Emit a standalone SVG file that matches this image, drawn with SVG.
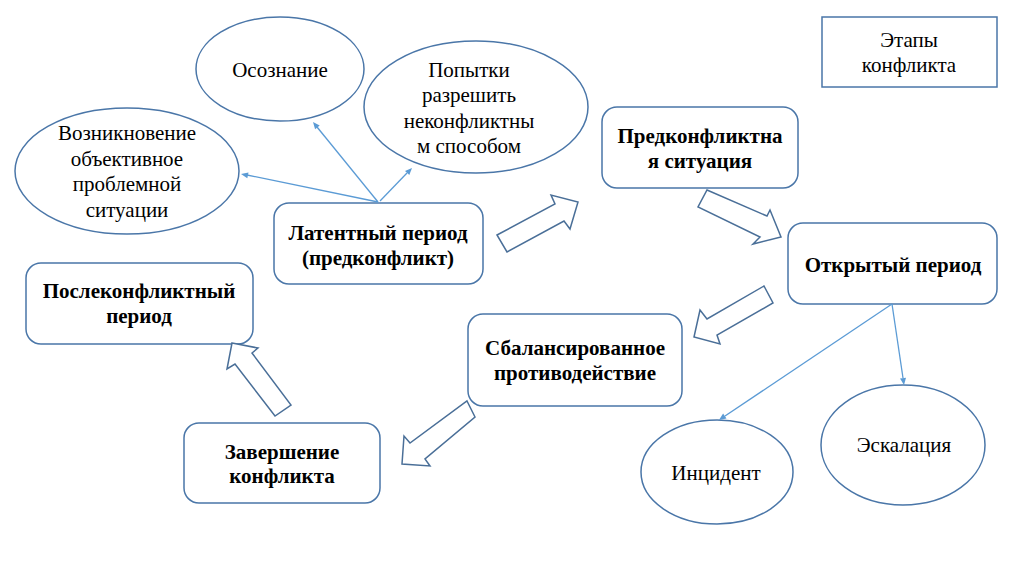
<svg xmlns="http://www.w3.org/2000/svg" width="1024" height="574" viewBox="0 0 1024 574">
<rect width="1024" height="574" fill="#fff"/>

<g id="osoznanie" fill="#fff" stroke="#4a76a8" stroke-width="1.5"><ellipse cx="280" cy="69" rx="84" ry="52"/><text font-family="Liberation Serif" font-size="21" text-anchor="middle" fill="#000" stroke="none" x="280" y="77">Осознание</text></g>
<g id="popytki" fill="#fff" stroke="#4a76a8" stroke-width="1.5"><ellipse cx="476" cy="107" rx="112" ry="66"/>
<text font-family="Liberation Serif" font-size="21" text-anchor="middle" fill="#000" stroke="none" x="469" y="77">Попытки</text>
<text font-family="Liberation Serif" font-size="21" text-anchor="middle" fill="#000" stroke="none" x="469" y="102">разрешить</text>
<text font-family="Liberation Serif" font-size="21" text-anchor="middle" fill="#000" stroke="none" x="469" y="128">неконфликтны</text>
<text font-family="Liberation Serif" font-size="21" text-anchor="middle" fill="#000" stroke="none" x="469" y="153">м способом</text></g>
<g id="vozniknovenie" fill="#fff" stroke="#4a76a8" stroke-width="1.5"><ellipse cx="127" cy="171" rx="112" ry="63"/>
<text font-family="Liberation Serif" font-size="21" text-anchor="middle" fill="#000" stroke="none" x="127" y="140">Возникновение</text>
<text font-family="Liberation Serif" font-size="21" text-anchor="middle" fill="#000" stroke="none" x="127" y="166">объективное</text>
<text font-family="Liberation Serif" font-size="21" text-anchor="middle" fill="#000" stroke="none" x="127" y="191">проблемной</text>
<text font-family="Liberation Serif" font-size="21" text-anchor="middle" fill="#000" stroke="none" x="127" y="217">ситуации</text></g>
<g id="latent" fill="#fff" stroke="#4a76a8" stroke-width="1.5"><rect x="274" y="203" width="209" height="81" rx="15"/>
<text font-family="Liberation Serif" font-size="21" font-weight="bold" text-anchor="middle" fill="#000" stroke="none" x="378" y="240">Латентный период</text>
<text font-family="Liberation Serif" font-size="21" font-weight="bold" text-anchor="middle" fill="#000" stroke="none" x="378" y="265">(предконфликт)</text></g>
<g id="predkonf" fill="#fff" stroke="#4a76a8" stroke-width="1.5"><rect x="602" y="107" width="196" height="81" rx="15"/>
<text font-family="Liberation Serif" font-size="21" font-weight="bold" text-anchor="middle" fill="#000" stroke="none" x="700" y="143">Предконфликтна</text>
<text font-family="Liberation Serif" font-size="21" font-weight="bold" text-anchor="middle" fill="#000" stroke="none" x="700" y="168">я ситуация</text></g>
<g id="etapy" fill="#fff" stroke="#4a76a8" stroke-width="1.5"><rect x="822" y="17" width="175" height="70"/>
<text font-family="Liberation Serif" font-size="21" text-anchor="middle" fill="#000" stroke="none" x="909" y="47">Этапы</text>
<text font-family="Liberation Serif" font-size="21" text-anchor="middle" fill="#000" stroke="none" x="909" y="72">конфликта</text></g>
<g id="otkryty" fill="#fff" stroke="#4a76a8" stroke-width="1.5"><rect x="788" y="223" width="209" height="81" rx="15"/>
<text font-family="Liberation Serif" font-size="21" font-weight="bold" text-anchor="middle" fill="#000" stroke="none" x="893" y="272">Открытый период</text></g>
<g id="balans" fill="#fff" stroke="#4a76a8" stroke-width="1.5"><rect x="468" y="314" width="214" height="92" rx="15"/>
<text font-family="Liberation Serif" font-size="21" font-weight="bold" text-anchor="middle" fill="#000" stroke="none" x="575" y="355">Сбалансированное</text>
<text font-family="Liberation Serif" font-size="21" font-weight="bold" text-anchor="middle" fill="#000" stroke="none" x="575" y="380">противодействие</text></g>
<g id="zavershenie" fill="#fff" stroke="#4a76a8" stroke-width="1.5"><rect x="184" y="423" width="196" height="80" rx="15"/>
<text font-family="Liberation Serif" font-size="21" font-weight="bold" text-anchor="middle" fill="#000" stroke="none" x="282" y="459">Завершение</text>
<text font-family="Liberation Serif" font-size="21" font-weight="bold" text-anchor="middle" fill="#000" stroke="none" x="282" y="483">конфликта</text></g>
<g id="poslekonf" fill="#fff" stroke="#4a76a8" stroke-width="1.5"><rect x="26" y="263" width="227" height="81" rx="15"/>
<text font-family="Liberation Serif" font-size="21" font-weight="bold" text-anchor="middle" fill="#000" stroke="none" x="139" y="298">Послеконфликтный</text>
<text font-family="Liberation Serif" font-size="21" font-weight="bold" text-anchor="middle" fill="#000" stroke="none" x="139" y="323">период</text></g>
<g id="incident" fill="#fff" stroke="#4a76a8" stroke-width="1.5"><ellipse cx="717" cy="472" rx="76" ry="52"/>
<text font-family="Liberation Serif" font-size="21" text-anchor="middle" fill="#000" stroke="none" x="716" y="480">Инцидент</text></g>
<g id="eskalacia" fill="#fff" stroke="#4a76a8" stroke-width="1.5"><ellipse cx="903" cy="445" rx="82" ry="60"/>
<text font-family="Liberation Serif" font-size="21" text-anchor="middle" fill="#000" stroke="none" x="904" y="452">Эскалация</text></g>

<g id="connectors">
<g stroke="#5b9bd5" stroke-width="1.3" fill="none">
<line x1="378" y1="202" x2="247" y2="175"/>
<line x1="378" y1="202" x2="317" y2="127"/>
<line x1="380" y1="201" x2="407" y2="173"/>
<line x1="892" y1="304" x2="725" y2="416"/>
<line x1="892" y1="304" x2="903" y2="378"/>
</g>
<g fill="#5b9bd5" stroke="none">
<polygon points="241,174 248.5,172.5 247.3,178.3"/>
<polygon points="313,122 319.7,125.5 315.1,129.3"/>
<polygon points="412,168 409.3,175.1 405,170.9"/>
<polygon points="719,420 723.1,413.6 726.5,418.6"/>
<polygon points="904,385 900,378.5 906,377.7"/>
</g>
<g fill="#fff" stroke="#4a6f98" stroke-width="1.5">
<polygon points="497,235 555,204 551,195 578,202 570,229 564,221 507,252"/>
<polygon points="707,190 767,216 770,210 781,237 753,244 760,237 698,207"/>
<polygon points="764,286 773,303 717,335 720,344 694,337 700,310 707,319"/>
<polygon points="467,401 475,417 425,459 430,466 402,464 404,436 410,443"/>
<polygon points="232,343 258,348 252,353 291,405 275,416 235,364 227,369"/>
</g>
</g>
</svg>
